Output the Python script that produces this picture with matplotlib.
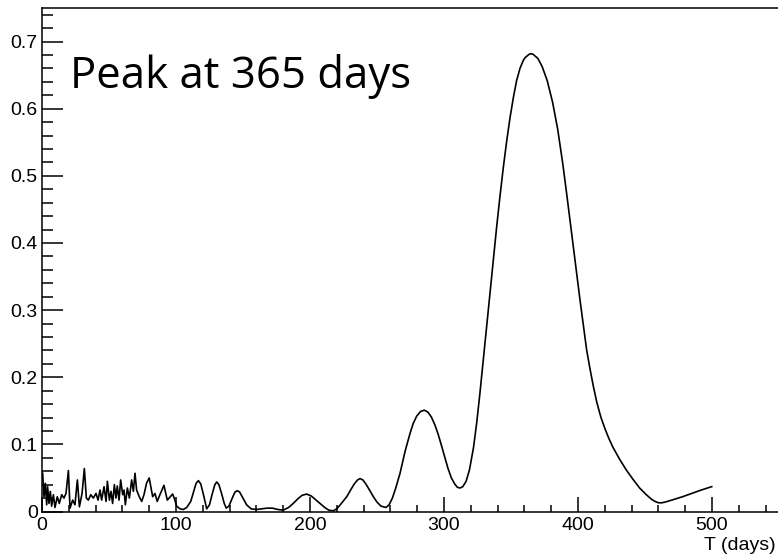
import matplotlib
matplotlib.use("Agg")
import matplotlib.pyplot as plt
from matplotlib.ticker import MultipleLocator

# periodogram: period in days vs power
period_days = [
    0.5, 1.5, 2.5, 3.5, 4.2, 5.2, 6.2, 7.2, 8.5, 9.7, 11.4, 12.9, 14.7, 16.4, 17.9,
    19.7, 20.9, 22.9, 24.6, 26.4, 27.9, 29.9, 31.6, 33.1, 34.6, 36.4, 38.3, 40.3,
    41.8, 43.3, 44.5, 46.3, 47.8, 48.8, 50.3, 51.5, 52.7, 54.0, 55.2, 56.2, 57.5,
    58.7, 60.2, 61.2, 62.2, 63.7, 65.2, 66.9, 68.2, 69.4, 70.6, 72.6, 74.4, 76.1,
    78.0, 80.0, 82.6, 84.3, 86.0, 88.0, 91.0, 93.5, 97.5, 99.0, 100.5, 103.0,
    105.5, 108.0, 111.0, 113.5, 115.0, 116.7, 118.5, 120.5, 122.9, 125.0, 127.0,
    129.0, 130.4, 132.0, 134.0, 136.0, 137.5, 139.5, 142.0, 144.0, 145.8, 147.5,
    150.0, 152.7, 156.0, 160.0, 164.0, 168.0, 172.0, 176.0, 180.0, 184.0, 187.5,
    191.0, 194.0, 197.5, 201.0, 204.5, 207.5, 211.0, 214.0, 217.4, 220.0, 223.0,
    227.4, 230.0, 233.0, 235.5, 237.3, 239.5, 242.0, 245.0, 247.3, 250.0, 253.0,
    256.7, 259.0, 261.5, 264.0, 267.2, 271.0, 274.6, 277.0, 279.6, 282.5, 285.3,
    288.0, 290.5, 293.0, 295.5, 298.0, 300.7, 303.0, 305.5, 308.0, 310.0, 312.0,
    314.0, 316.5, 319.0, 322.0, 324.4, 326.8, 329.3, 331.8, 334.3, 336.8, 339.3,
    341.8, 344.3, 346.8, 349.3, 351.8, 354.2, 356.7, 359.2, 360.5, 363.5, 365.0,
    366.5, 370.0, 373.2, 377.0, 381.0, 384.8, 388.5, 391.5, 394.0, 396.5, 399.0,
    401.5, 404.0, 406.5, 409.0, 411.4, 414.0, 417.0, 420.0, 423.0, 426.0, 431.0,
    436.0, 441.0, 446.0, 451.0, 455.0, 457.5, 460.0, 462.5, 465.0, 470.0, 478.0,
    485.0, 492.0, 499.8,
]
power = [
    0.057, 0.022, 0.042, 0.010, 0.037, 0.012, 0.030, 0.008, 0.025, 0.006, 0.022,
    0.012, 0.025, 0.020, 0.027, 0.061, 0.005, 0.017, 0.010, 0.047, 0.007, 0.027,
    0.064, 0.020, 0.017, 0.025, 0.020, 0.027, 0.017, 0.032, 0.017, 0.037, 0.015,
    0.045, 0.017, 0.030, 0.012, 0.040, 0.020, 0.038, 0.017, 0.047, 0.025, 0.032,
    0.010, 0.035, 0.020, 0.047, 0.030, 0.057, 0.032, 0.022, 0.015, 0.025,
    0.042, 0.050, 0.022, 0.027, 0.015, 0.025, 0.039, 0.017, 0.026, 0.018, 0.008,
    0.004, 0.003, 0.006, 0.015, 0.032, 0.042, 0.046, 0.041, 0.025, 0.004, 0.010,
    0.026, 0.040, 0.044, 0.040, 0.027, 0.012, 0.005, 0.008, 0.020, 0.029, 0.031,
    0.029, 0.020, 0.010, 0.004, 0.003, 0.004, 0.005, 0.005, 0.003, 0.002, 0.006,
    0.012, 0.019, 0.024, 0.026, 0.023, 0.017, 0.012, 0.006, 0.002, 0.001, 0.004,
    0.011, 0.022, 0.031, 0.041, 0.047, 0.049, 0.047, 0.040, 0.030, 0.022, 0.014,
    0.008, 0.006, 0.010, 0.020, 0.035, 0.057, 0.090, 0.116, 0.131, 0.142, 0.149,
    0.151, 0.148, 0.141, 0.130, 0.116, 0.099, 0.080, 0.064, 0.050, 0.041, 0.036,
    0.035, 0.037, 0.045, 0.062, 0.095, 0.132, 0.176, 0.225, 0.275, 0.325, 0.375,
    0.424, 0.470, 0.513, 0.552, 0.587, 0.617, 0.642, 0.660, 0.672, 0.676, 0.681,
    0.682, 0.681, 0.675, 0.663, 0.642, 0.610, 0.570, 0.520, 0.474, 0.434, 0.394,
    0.354, 0.315, 0.277, 0.240, 0.212, 0.187, 0.163, 0.141, 0.124, 0.109, 0.096,
    0.078, 0.062, 0.048, 0.035, 0.025, 0.018, 0.015, 0.013, 0.013, 0.014, 0.017,
    0.022, 0.027, 0.032, 0.037,
]

plt.rcParams["font.family"] = ["Liberation Sans", "DejaVu Sans"]

fig = plt.figure(figsize=(7.78, 5.55), dpi=100)
ax = fig.add_axes([42 / 778, 43.5 / 555, 737 / 778, 503.5 / 555])

ax.plot(period_days, power, color="black", lw=1.2)

ax.set_xlim(0, 550)
ax.set_ylim(0, 0.75)
ax.xaxis.set_minor_locator(MultipleLocator(20))
ax.yaxis.set_minor_locator(MultipleLocator(0.02))
ax.set_xticks([0, 100, 200, 300, 400, 500])
ax.set_xticklabels(["0", "100", "200", "300", "400", "500"])
ax.set_yticks([0, 0.1, 0.2, 0.3, 0.4, 0.5, 0.6, 0.7])
ax.set_yticklabels(["0", "0.1", "0.2", "0.3", "0.4", "0.5", "0.6", "0.7"])

ax.tick_params(axis="both", which="both", direction="in", labelsize=14,
               width=1.1, color="black")
ax.tick_params(axis="x", which="major", length=10.8, pad=4)
ax.tick_params(axis="x", which="minor", length=5.4)
ax.tick_params(axis="y", which="major", length=15, pad=3)
ax.tick_params(axis="y", which="minor", length=7.9)

for side in ("left", "bottom", "top"):
    ax.spines[side].set_linewidth(1.1)
ax.spines["right"].set_visible(False)

fig.text(776 / 778, 1 - 545 / 555, "T (days)", ha="right", va="center",
         fontsize=14)
fig.text(70 / 778, 1 - 88 / 555, "Peak at 365 days", ha="left",
         va="baseline", fontsize=31.5, family=["Open Sans", "DejaVu Sans"])

fig.savefig("out.png", dpi=100)
